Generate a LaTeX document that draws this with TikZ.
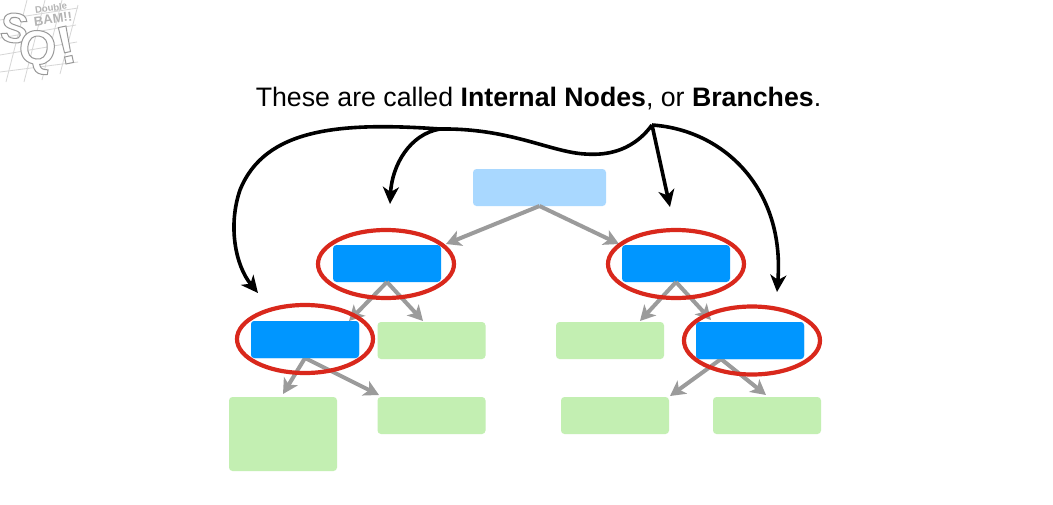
\documentclass[tikz,border=0pt]{standalone}
\usepackage{fontspec}
\setmainfont{Liberation Sans}
\usetikzlibrary{arrows.meta,shapes.geometric}
\definecolor{rootblue}{HTML}{A9D8FF}
\definecolor{midblue}{HTML}{0096FF}
\definecolor{leafgreen}{HTML}{C3EFB2}
\definecolor{ringred}{HTML}{D9281C}
\definecolor{edgegray}{HTML}{9B9B9B}
\definecolor{logogray}{HTML}{B4B4B4}
\newcommand{\hollowtext}[2]{\special{pdf:code q 2 Tr #1 w 0.6 G 1 g}#2\special{pdf:code Q}}
\tikzset{
  x=1pt,y=-1pt,
  box/.style={draw=none,rounded corners=3.5pt,minimum width=108pt,minimum height=37pt,inner sep=0pt,outer sep=0pt},
  rootbox/.style={box,fill=rootblue,minimum width=133pt},
  midbox/.style={box,fill=midblue},
  leafbox/.style={box,fill=leafgreen},
  ring/.style={ellipse,draw=ringred,line width=4.2pt,minimum width=136pt,minimum height=68pt,inner sep=0pt},
  treeedge/.style={draw=edgegray,line width=4pt,-{Stealth[length=15pt,width=16pt,inset=4pt]}},
  callout/.style={draw=black,line width=3.6pt},
  calltip/.style={callout,-{Stealth[length=17pt,width=16pt,inset=5pt]}},
  logoline/.style={draw=logogray!55,line width=.8pt},
  logotext/.style={inner sep=0pt,text=logogray}
}
\begin{document}
\begin{tikzpicture}
\useasboundingbox (0,0) rectangle (1053,504);
\fill[white] (0,0) rectangle (1053,504);
% logo
\begin{scope}
  \clip (0,0) rectangle (85,90);
  \foreach \a/\b/\c/\d in {27/0/6/82,45/0/24/82,62/0/42/80,78/5/60/74,0/20/78/8,0/38/76/25,0/55/77/42,0/72/78/62}
    \draw[logoline] (\a,\b) -- (\c,\d);
\end{scope}
\node[logotext,font=\bfseries\fontsize{9.5}{9.5}\selectfont,rotate=8] (logoa) at (51,8) {Double};
\node[logotext,font=\bfseries\fontsize{13}{13}\selectfont,rotate=8] (logob) at (53,19) {BAM!!};
\node[logotext,font=\bfseries\fontsize{42}{42}\selectfont,rotate=-6] (logos) at (14.5,28) {\hollowtext{1}{S}};
\node[logotext,font=\bfseries\fontsize{48}{48}\selectfont,rotate=-8] (logoq) at (37,52) {\hollowtext{1}{Q}};
\node[logotext,font=\bfseries\fontsize{54}{54}\selectfont,rotate=12] (logoe) at (66,45) {\hollowtext{1}{!}};
% title
\node[font=\fontsize{26.7}{29}\selectfont,inner sep=0pt] (title) at (538.5,99) {These are called \textbf{Internal Nodes}, or \textbf{Branches}.};
% boxes
\node[rootbox] (root) at (539.5,187.5) {};
\node[midbox] (a) at (387,263.5) {};
\node[midbox] (b) at (676,263.5) {};
\node[midbox] (c) at (305,339.5) {};
\node[midbox] (f) at (750,340.5) {};
\node[leafbox] (d) at (431.5,340.5) {};
\node[leafbox] (e) at (610,340.5) {};
\node[leafbox,minimum height=74pt] (g) at (283,434) {};
\node[leafbox] (h) at (431.5,415.5) {};
\node[leafbox] (i) at (615,415.5) {};
\node[leafbox] (j) at (767,415.5) {};
% tree edges
\coordinate (ta) at (446,244);
\coordinate (tb) at (619,244);
\coordinate (td) at (423,321);
\coordinate (tc) at (349,321);
\coordinate (te) at (640,321);
\coordinate (tf) at (711,320);
\coordinate (tg) at (283,394);
\coordinate (th) at (379,395);
\coordinate (ti) at (670,396);
\coordinate (tj) at (766,395);
\coordinate (fs) at (721,359);
\draw[treeedge] (root.south) -- (ta);
\draw[treeedge] (root.south) -- (tb);
\draw[treeedge] (a.south) -- (tc);
\draw[treeedge] (a.south) -- (td);
\draw[treeedge] (b.south) -- (te);
\draw[treeedge] (b.south) -- (tf);
\draw[treeedge] (c.south) -- (tg);
\draw[treeedge] (c.south) -- (th);
\draw[treeedge] (fs) -- (ti);
\draw[treeedge] (fs) -- (tj);
\node[midbox] (c2) at (c) {};
\node[midbox] (f2) at (f) {};
% rings
\node[ring] (ra) at (386,264) {};
\node[ring] (rb) at (676,264) {};
\node[ring] (rc) at (305,339) {};
\node[ring] (rf) at (752,340.5) {};
% callouts
\coordinate (hub) at (652,125);
\coordinate (fork) at (440,129);
\coordinate (t1) at (258,293);
\coordinate (t2) at (390,204);
\coordinate (t3) at (670,207);
\coordinate (t4) at (777,292);
\draw[callout,line join=miter] (hub) .. controls (630,155) and (600,155) .. (585,154)
   .. controls (550,152) and (510,128) .. (fork);
\draw[calltip] (fork) .. controls (340,122) and (265,128) .. (240,190)
   .. controls (228,225) and (235,265) .. (t1);
\draw[calltip] (fork) .. controls (410,134) and (392,165) .. (t2);
\draw[calltip] (hub) -- (t3);
\draw[calltip] (hub) .. controls (725,130) and (785,190) .. (t4);
\end{tikzpicture}
\end{document}
